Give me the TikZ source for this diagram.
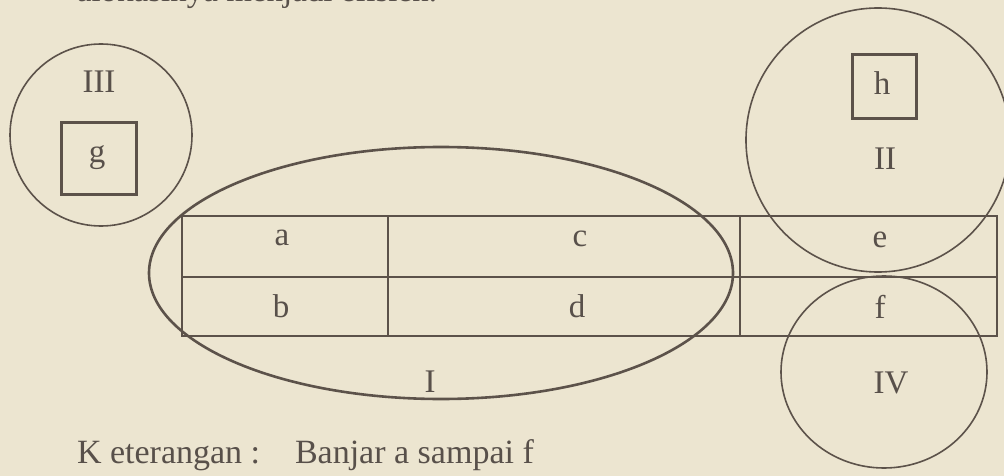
\documentclass[tikz,border=0pt]{standalone}
\usepackage{fontspec}
\setmainfont{Liberation Serif}
\usetikzlibrary{shapes.geometric}
\definecolor{inkc}{RGB}{92,82,74}
\definecolor{textc}{RGB}{88,80,74}
\definecolor{bgc}{RGB}{236,229,208}
\begin{document}
\begin{tikzpicture}[x=1pt,y=-1pt,
  lbl/.style={font=\fontsize{33}{33}\selectfont, text=textc, inner sep=0pt, outer sep=0pt, anchor=base},
  cell/.style={draw=inkc, line width=2pt, rectangle, inner sep=0pt, outer sep=0pt},
  sq/.style={draw=inkc, line width=3pt, rectangle, inner sep=0pt, outer sep=0pt},
  ring/.style={draw=inkc, line width=1.6pt, circle, inner sep=0pt, outer sep=0pt},
  oval/.style={draw=inkc, ellipse, inner sep=0pt, outer sep=0pt}]
\useasboundingbox (0,0) rectangle (1004,476);
\fill[bgc] (0,0) rectangle (1004,476);
\clip (0,0) rectangle (1004,476);

% top (cut) line of text
\node[lbl, anchor=base east] (toptext) at (437,2) {alokasinya menjadi efisien.};

% table cells
\node[cell, minimum width=206pt, minimum height=61pt] (ca) at (285,246.5) {};
\node[cell, minimum width=352pt, minimum height=61pt] (cc) at (564,246.5) {};
\node[cell, minimum width=257pt, minimum height=61pt] (ce) at (868.5,246.5) {};
\node[cell, minimum width=206pt, minimum height=59pt] (cb) at (285,306.5) {};
\node[cell, minimum width=352pt, minimum height=59pt] (cd) at (564,306.5) {};
\node[cell, minimum width=257pt, minimum height=59pt] (cf) at (868.5,306.5) {};

% cell labels
\node[lbl] (la) at (282,245) {a};
\node[lbl] (lc) at (580,246) {c};
\node[lbl] (le) at (880,247) {e};
\node[lbl] (lb) at (281,317) {b};
\node[lbl] (ld) at (577,317) {d};
\node[lbl] (lf) at (880,318) {f};

% group I
\node[oval, line width=2.6pt, minimum width=584pt, minimum height=252pt] (grpI) at (441,273) {};
\node[lbl] (lI) at (430,392) {I};

% group III
\node[ring, minimum size=182pt] (grpIII) at (101,135) {};
\node[lbl] (lIII) at (99,93) {III};
\node[sq, minimum width=75pt, minimum height=71pt] (sg) at (98.5,158.5) {};
\node[lbl] (lg) at (97,163) {g};

% group II
\node[ring, minimum size=264pt] (grpII) at (878,140) {};
\node[sq, minimum width=64pt, minimum height=64pt] (sh) at (884,87) {};
\node[lbl] (lh) at (882,95) {h};
\node[lbl] (lII) at (885,170) {II};

% group IV
\node[oval, line width=1.6pt, minimum width=206pt, minimum height=192pt] (grpIV) at (884,372) {};
\node[lbl] (lIV) at (891,393) {IV};

% caption
\node[lbl, font=\fontsize{34}{34}\selectfont, anchor=base west] (ket) at (77,463) {K eterangan :};
\node[lbl, font=\fontsize{34}{34}\selectfont, anchor=base west] (banjar) at (295,463) {Banjar a sampai f};
\end{tikzpicture}
\end{document}
